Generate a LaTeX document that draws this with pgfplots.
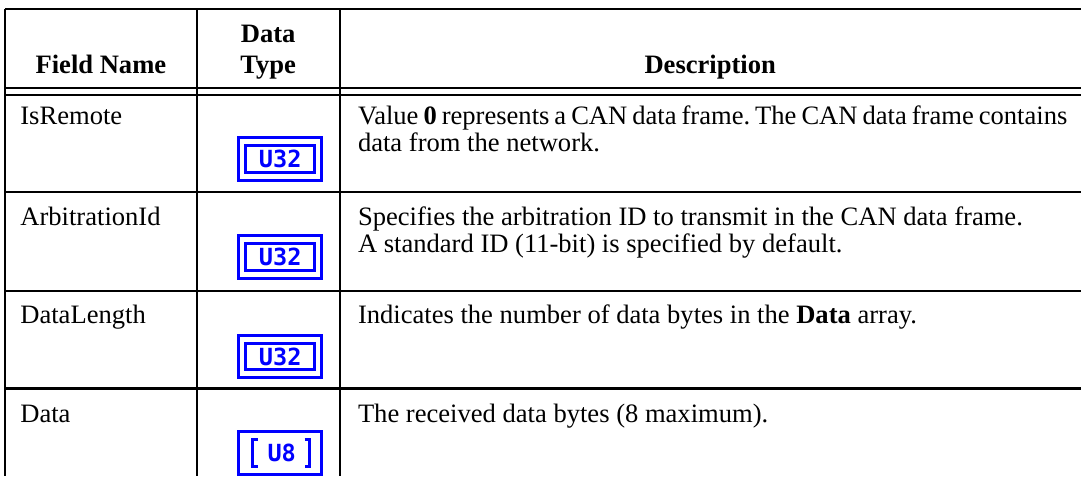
\documentclass[border=0pt]{standalone}
\usepackage{fontspec}
\setmainfont{Liberation Serif}
\newfontfamily\iconfont{DejaVu Sans Mono}
\usepackage{pgfplots}
\pgfplotsset{compat=1.18}
\definecolor{iconblue}{RGB}{0,0,255}
\newcommand{\bodyfont}{\fontsize{13.3}{13.5}\selectfont\frenchspacing}
\newcommand{\icontext}{\iconfont\bfseries\fontsize{11.8}{12}\selectfont}
\begin{document}
\begin{tikzpicture}
\begin{axis}[scale only axis, width=541pt, height=238.5pt,
  xmin=0, xmax=1082, ymin=0, ymax=477, y dir=reverse,
  axis lines=none, clip=false]
\path (axis cs:0,0) rectangle (axis cs:1082,477);
% rules
\draw[line width=1.2pt] (axis cs:5,9) -- (axis cs:1082,9);
\draw[line width=1.0pt] (axis cs:5,88) -- (axis cs:1082,88);
\draw[line width=1.0pt] (axis cs:5,95) -- (axis cs:1082,95);
\draw[line width=1.1pt] (axis cs:5,192) -- (axis cs:1082,192);
\draw[line width=1.1pt] (axis cs:5,291) -- (axis cs:1082,291);
\draw[line width=1.1pt] (axis cs:5,389) -- (axis cs:1082,389);
\draw[line width=1.1pt] (axis cs:5,9) -- (axis cs:5,477);
\draw[line width=1.1pt] (axis cs:197,9) -- (axis cs:197,477);
\draw[line width=1.1pt] (axis cs:340,9) -- (axis cs:340,477);
% header
\node[anchor=base, inner sep=0] at (axis cs:101,74) {\bodyfont\bfseries Field Name};
\node[anchor=base, inner sep=0] at (axis cs:268.5,43) {\bodyfont\bfseries Data};
\node[anchor=base, inner sep=0] at (axis cs:268.5,74) {\bodyfont\bfseries Type};
\node[anchor=base, inner sep=0] at (axis cs:711,74) {\bodyfont\bfseries Description};
% column 1
\node[anchor=base west, inner sep=0] at (axis cs:20,125) {\bodyfont IsRemote};
\node[anchor=base west, inner sep=0] at (axis cs:20,226) {\bodyfont ArbitrationId};
\node[anchor=base west, inner sep=0] at (axis cs:20,324) {\bodyfont DataLength};
\node[anchor=base west, inner sep=0] at (axis cs:20,423) {\bodyfont Data};
% column 3
\node[anchor=base west, inner sep=0] at (axis cs:358,125) {\bodyfont\spaceskip=2.5pt plus 0.5pt\relax Value \textbf{0} represents a CAN data frame. The CAN data frame contains};
\node[anchor=base west, inner sep=0] at (axis cs:358,152) {\bodyfont data from the network.};
\node[anchor=base west, inner sep=0] at (axis cs:358,226) {\bodyfont Specifies the arbitration ID to transmit in the CAN data frame.};
\node[anchor=base west, inner sep=0] at (axis cs:358,253) {\bodyfont A standard ID (11-bit) is specified by default.};
\node[anchor=base west, inner sep=0] at (axis cs:358,324) {\bodyfont Indicates the number of data bytes in the \textbf{Data} array.};
\node[anchor=base west, inner sep=0] at (axis cs:358,423) {\bodyfont The received data bytes (8 maximum).};
% icons U32
\draw[iconblue, line width=1.5pt] (axis cs:239,138) rectangle (axis cs:322,181);
\draw[iconblue, line width=1.5pt] (axis cs:246,146) rectangle (axis cs:315,173);
\node[iconblue, inner sep=0] at (axis cs:280.5,159.5) {\icontext U32};
\draw[iconblue, line width=1.5pt] (axis cs:239,236) rectangle (axis cs:322,279);
\draw[iconblue, line width=1.5pt] (axis cs:246,244) rectangle (axis cs:315,271);
\node[iconblue, inner sep=0] at (axis cs:280.5,257.5) {\icontext U32};
\draw[iconblue, line width=1.5pt] (axis cs:239,336) rectangle (axis cs:322,378);
\draw[iconblue, line width=1.5pt] (axis cs:246,344) rectangle (axis cs:315,370);
\node[iconblue, inner sep=0] at (axis cs:280.5,357) {\icontext U32};
% icon U8
\draw[iconblue, line width=1.5pt] (axis cs:239,432) rectangle (axis cs:322,475);
\draw[iconblue, line width=1.5pt] (axis cs:258,440) -- (axis cs:253,440) -- (axis cs:253,467) -- (axis cs:258,467);
\draw[iconblue, line width=1.5pt] (axis cs:305,440) -- (axis cs:310,440) -- (axis cs:310,467) -- (axis cs:305,467);
\node[iconblue, inner sep=0] at (axis cs:282,453.5) {\icontext U8};
\end{axis}
\end{tikzpicture}
\end{document}
